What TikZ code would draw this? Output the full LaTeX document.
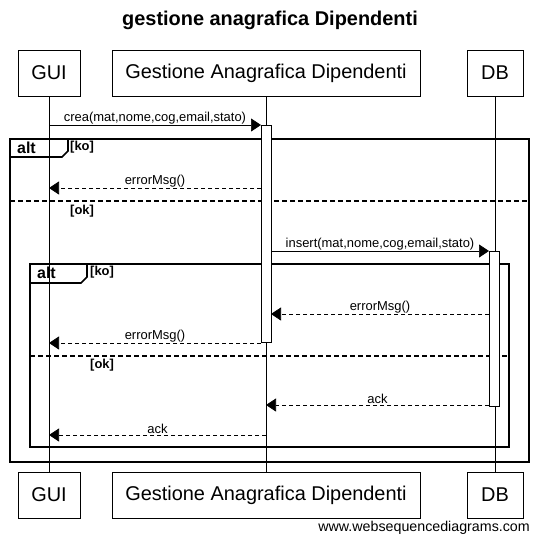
\documentclass[tikz,border=0pt]{standalone}
\usepackage{fontspec}
\setmainfont{Liberation Sans}
\usepackage{tikz}
\usetikzlibrary{arrows.meta,positioning,calc}

\tikzset{
  actor/.style={draw, line width=0.8bp, minimum height=46bp, inner xsep=12bp, font=\fontsize{20}{24}\selectfont},
  msg/.style={-{Triangle[length=10bp,width=13bp]}, line width=0.6bp},
  reply/.style={msg, dash pattern=on 4bp off 3bp},
  lbl/.style={font=\fontsize{13}{15}\selectfont, inner sep=1bp, above},
  frame/.style={line width=1.6bp},
  sep/.style={line width=1.6bp, dash pattern=on 5bp off 3bp},
  guard/.style={font=\bfseries\fontsize{13}{15}\selectfont, inner sep=0pt, anchor=west},
  tab/.style={guard, font=\bfseries\fontsize{16}{18}\selectfont},
  actbar/.style={draw, fill=white, line width=0.8bp}
}

\begin{document}
\begin{tikzpicture}[>=latex]
	\useasboundingbox (0bp,0bp) rectangle (538bp,-544bp);
	\node (title) at (270bp,-20bp) [font=\bfseries\fontsize{20}{24}\selectfont] {gestione anagrafica Dipendenti};

	% partecipanti
	\node (gui)  at (49bp,-73bp)  [actor, minimum width=62bp] {GUI};
	\node (gest) at (266bp,-73bp) [actor, minimum width=308bp] {Gestione Anagrafica Dipendenti};
	\node (db)   at (495bp,-73bp) [actor, minimum width=56bp] {DB};
	\node (guiB)  at (49bp,-495bp)  [actor, minimum width=62bp] {GUI};
	\node (gestB) at (266bp,-495bp) [actor, minimum width=308bp] {Gestione Anagrafica Dipendenti};
	\node (dbB)   at (495bp,-495bp) [actor, minimum width=56bp] {DB};
	\node (wsd) at (530bp,-528bp) [anchor=east, inner sep=0pt, font=\fontsize{14.3}{16}\selectfont] {www.websequencediagrams.com};

	% frames alt
	\draw [frame] (10bp,-139bp) rectangle (529bp,-462bp);
	\draw [frame] (10bp,-157bp) -- (62bp,-157bp) -- (68bp,-151bp) -- (68bp,-139bp);
	\node at (17bp,-148bp) [tab] {alt};
	\node at (70bp,-147bp) [guard] {[ko]};
	\draw [sep] (10bp,-201bp) -- (529bp,-201bp);
	\node at (70bp,-211bp) [guard] {[ok]};

	\draw [frame] (30bp,-264bp) rectangle (509bp,-447bp);
	\draw [frame] (30bp,-283bp) -- (81bp,-283bp) -- (87bp,-277bp) -- (87bp,-264bp);
	\node at (37bp,-273bp) [tab] {alt};
	\node at (90bp,-272bp) [guard] {[ko]};
	\draw [sep] (30bp,-356bp) -- (509bp,-356bp);
	\node at (90bp,-365bp) [guard] {[ok]};

	% linee di vita
	\draw [line width=0.6bp] (gui)  -- (guiB);
	\draw [line width=0.6bp] (gest) -- (gestB);
	\draw [line width=0.6bp] (db)   -- (dbB);

	% attivazioni
	\node (actG) at (266bp,-233.5bp) [actbar, minimum width=10bp, minimum height=217bp, inner sep=0pt] {};
	\node (actD) at (494bp,-328.5bp) [actbar, minimum width=10bp, minimum height=155bp, inner sep=0pt] {};

	% punti dei messaggi
	\coordinate (g1) at (49bp,-125bp);
	\coordinate (a1) at (261bp,-125bp);
	\coordinate (a2) at (261bp,-188bp);
	\coordinate (g2) at (49bp,-188bp);
	\coordinate (a3) at (271bp,-251bp);
	\coordinate (d3) at (489bp,-251bp);
	\coordinate (d4) at (489bp,-314bp);
	\coordinate (a4) at (271bp,-314bp);
	\coordinate (a5) at (261bp,-343bp);
	\coordinate (g5) at (49bp,-343bp);
	\coordinate (d6) at (489bp,-405bp);
	\coordinate (l6) at (266bp,-405bp);
	\coordinate (l7) at (266bp,-435bp);
	\coordinate (g7) at (49bp,-435bp);

	\draw [msg]   (g1) to node[lbl] {crea(mat,nome,cog,email,stato)} (a1);
	\draw [reply] (a2) to node[lbl] {errorMsg()} (g2);
	\draw [msg]   (a3) to node[lbl] {insert(mat,nome,cog,email,stato)} (d3);
	\draw [reply] (d4) to node[lbl] {errorMsg()} (a4);
	\draw [reply] (a5) to node[lbl] {errorMsg()} (g5);
	\draw [reply] (d6) to node[lbl] {ack} (l6);
	\draw [reply] (l7) to node[lbl] {ack} (g7);
\end{tikzpicture}
\end{document}
